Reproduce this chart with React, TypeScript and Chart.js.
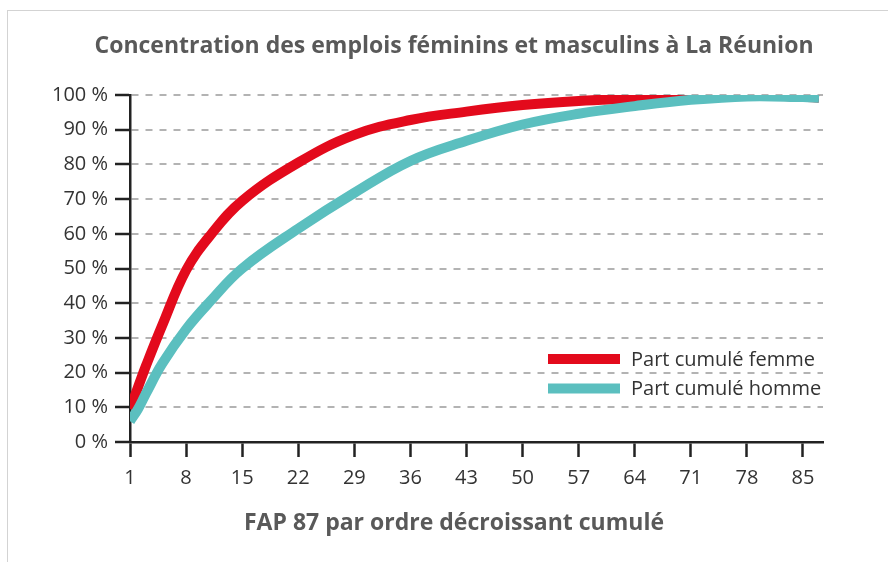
import { useEffect, useRef } from "react";
import { Chart, registerables } from "chart.js";

Chart.register(...registerables);

// FAP rank (x) and cumulative shares in % (y)
const fapRank = [1, 2, 3, 5, 8, 11, 15, 22, 29, 36, 43, 50, 57, 64, 71, 78, 85, 87];
const partFemme = [9.5, 15.8, 22, 33.5, 49.5, 59.5, 69.5, 80.5, 88.5, 92.8, 95.2, 97.1, 98.3, 99, 99.8, 100, 99.5, 99.2];
const partHomme = [6, 9.5, 14, 22.5, 32.5, 40.5, 50, 61.5, 71.8, 81, 86.8, 91.5, 94.6, 96.8, 98.6, 99.6, 99.4, 99.2];

const xTickValues = [1, 8, 15, 22, 29, 36, 43, 50, 57, 64, 71, 78, 85];
const yTickValues = [0, 10, 20, 30, 40, 50, 60, 70, 80, 90, 100];

const seriesLabels = ["Part cumulé femme", "Part cumulé homme"];
const seriesColors = ["#e30a1c", "#5bbfbf"];
const chartTitle = "Concentration des emplois féminins et masculins à La Réunion";
const xAxisTitle = "FAP 87 par ordre décroissant cumulé";

const FONT = "'Open Sans', 'Noto Sans', sans-serif";

const insideLegend = {
  id: "insideLegend",
  afterDatasetsDraw(chart: any) {
    const { ctx, chartArea } = chart;
    const x0 = chartArea.right - 275;
    const y0 = chartArea.bottom - 83;
    chart.data.datasets.forEach((ds: any, i: number) => {
      const y = y0 + i * 29.5;
      ctx.save();
      ctx.fillStyle = ds.borderColor;
      ctx.fillRect(x0, y - 5, 72, 10);
      ctx.fillStyle = "#333333";
      ctx.font = `20px ${FONT}`;
      ctx.textBaseline = "middle";
      ctx.textAlign = "left";
      ctx.fillText(ds.label, x0 + 83, y + 1);
      ctx.restore();
    });
  },
};

export default function App() {
  const ref = useRef<HTMLCanvasElement | null>(null);

  useEffect(() => {
    if (!ref.current) return;
    Chart.defaults.font.family = FONT;
    const lineStyle = {
      borderWidth: 10,
      pointRadius: 0,
      tension: 0.4,
      borderCapStyle: "butt",
      borderJoinStyle: "round",
    };
    const chart = new Chart(ref.current, {
      type: "line",
      data: {
        datasets: [
          {
            label: seriesLabels[0],
            data: fapRank.map((x, i) => ({ x, y: partFemme[i] })),
            borderColor: seriesColors[0],
            backgroundColor: seriesColors[0],
            ...lineStyle,
            order: 2,
          },
          {
            label: seriesLabels[1],
            data: fapRank.map((x, i) => ({ x, y: partHomme[i] })),
            borderColor: seriesColors[1],
            backgroundColor: seriesColors[1],
            ...lineStyle,
            order: 1,
          },
        ],
      },
      options: {
        responsive: false,
        animation: false,
        layout: { padding: { left: 20, right: 0, top: 0, bottom: 0 } },
        plugins: {
          legend: { display: false },
          tooltip: { enabled: false },
          title: {
            display: true,
            text: chartTitle,
            color: "#595959",
            font: { family: FONT, size: 23, weight: "bold", lineHeight: 1.2 },
            padding: { top: 32.2, bottom: 35.2 },
          },
          subtitle: {
            display: true,
            position: "bottom",
            text: xAxisTitle,
            color: "#595959",
            font: { family: FONT, size: 23, weight: "bold", lineHeight: 1.2 },
            padding: { top: 8.2, bottom: 25.2 },
          },
        },
        scales: {
          x: {
            type: "linear",
            min: 1,
            max: 87.5,
            afterBuildTicks: (s: any) => {
              s.ticks = xTickValues.map((v) => ({ value: v }));
            },
            afterFit: (s: any) => {
              s.height = 59;
            },
            grid: {
              drawOnChartArea: false,
              tickLength: 15,
              tickColor: "#222222",
              tickWidth: 2.5,
            },
            border: { color: "#222222", width: 2.5 },
            ticks: {
              color: "#333333",
              font: { family: FONT, size: 20 },
              padding: 9,
              maxRotation: 0,
              autoSkip: false,
            },
          },
          y: {
            type: "linear",
            min: 0,
            max: 100,
            afterBuildTicks: (s: any) => {
              s.ticks = yTickValues.map((v) => ({ value: v }));
            },
            afterFit: (s: any) => {
              s.width = 110;
            },
            grid: {
              color: "#b3b3b3",
              lineWidth: 2,
              tickLength: 15,
              tickColor: "#222222",
              tickWidth: 2.5,
              tickBorderDash: [],
            },
            border: { color: "#222222", width: 2.5, dash: [7, 7] },
            ticks: {
              color: "#333333",
              font: { family: FONT, size: 20 },
              padding: 7,
              callback: (v: any) => `${v} %`,
            },
          },
          y2: {
            position: "right",
            afterFit: (s: any) => {
              s.width = 65;
            },
            grid: { display: false },
            border: { display: false },
            ticks: { display: false },
          },
        },
      } as any,
      plugins: [insideLegend],
    });
    return () => chart.destroy();
  }, []);

  return (
    <div
      style={{
        position: "fixed",
        left: 0,
        top: 0,
        width: 888,
        height: 562,
        overflow: "hidden",
        background: "#ffffff",
      }}
    >
      <div
        style={{
          position: "absolute",
          left: 7,
          top: 10,
          width: 1000,
          height: 1000,
          border: "1px solid #d3d3d3",
        }}
      />
      <canvas
        ref={ref}
        width={888}
        height={562}
        style={{ position: "absolute", left: 0, top: 0 }}
      />
    </div>
  );
}
